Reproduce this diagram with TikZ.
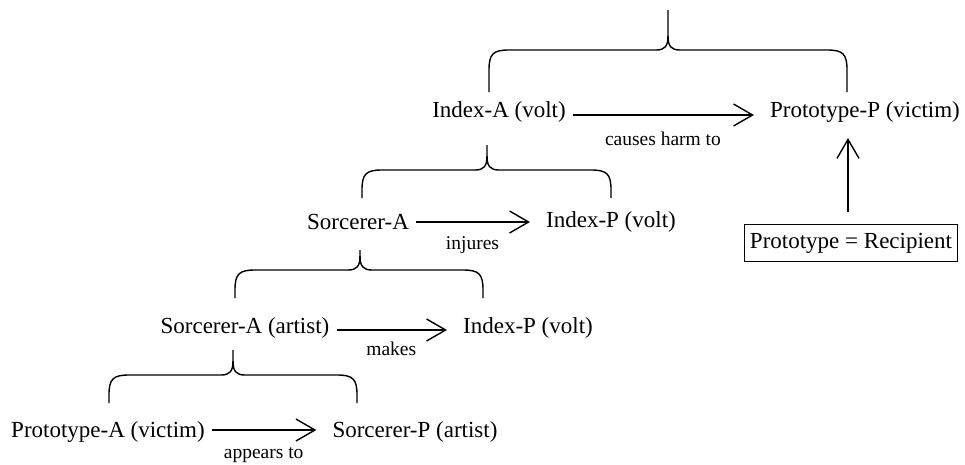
\documentclass[tikz,border=0pt]{standalone}
\usepackage{fontspec}
\setmainfont{Liberation Serif}
\usetikzlibrary{arrows.meta}
\newcommand\cbrace[6]{% xl, xr, xm, yh, ybottom, ytop
  \draw[bracestyle] (#1,#5) -- (#1,{#4+20}) .. controls (#1,{#4+4}) and ({#1+4},#4) .. ({#1+20},#4)
    -- ({#3-12},#4) .. controls ({#3-3},#4) and (#3,{#4-4}) .. (#3,{#4-14}) -- (#3,#6);
  \draw[bracestyle] (#3,{#4-14}) .. controls (#3,{#4-4}) and ({#3+3},#4) .. ({#3+12},#4)
    -- ({#2-20},#4) .. controls ({#2-4},#4) and (#2,{#4+4}) .. (#2,{#4+20}) -- (#2,#5);
}
\begin{document}
\begin{tikzpicture}[x=1pt,y=-1pt,
  term/.style={inner xsep=7pt, inner ysep=2pt, font=\fontsize{23}{27}\selectfont},
  lbl/.style={font=\fontsize{19.5}{23}\selectfont, inner sep=1pt, xshift=-5pt},
  arr/.style={-{Straight Barb[length=19pt,width=22pt]}, line width=1.4pt, shorten >=9pt},
  bracestyle/.style={line width=1.4pt},
  boxed/.style={draw, line width=1pt, inner xsep=5pt, inner ysep=8pt, font=\fontsize{23}{27}\selectfont}]
\useasboundingbox (0,0) rectangle (965,464);

\node[term] (IA)  at (499,112) {Index-A (volt)};
\node[term] (PP)  at (865,112) {Prototype-P (victim)};
\node[term] (SA)  at (358,222) {Sorcerer-A};
\node[term] (IP1) at (611,222) {Index-P (volt)};
\node[term] (SAa) at (245,328) {Sorcerer-A (artist)};
\node[term] (IP2) at (528,328) {Index-P (volt)};
\node[term] (PA)  at (108,432) {Prototype-A (victim)};
\node[term] (SP)  at (415,432) {Sorcerer-P (artist)};
\node[boxed] (box) at (851,243) {Prototype = Recipient};

\draw[arr] ([yshift=-3pt]IA.east) -- node[lbl, below=15pt] {causes harm to} ([yshift=-3pt]PP.west);
\draw[arr] (SA.east) -- node[lbl, below=13pt] {injures} (IP1.west);
\draw[arr] ([yshift=-2pt]SAa.east) -- node[lbl, below=10pt] {makes} ([yshift=-2pt]IP2.west);
\draw[arr] ([yshift=2pt]PA.east) -- node[lbl, below=16pt] {appears to} ([yshift=2pt]SP.west);
\draw[arr, shorten >=2pt, shorten <=12pt] (box.north -| 848,0) -- (848,136);

\cbrace{489}{847}{668}{50}{92}{10}
\cbrace{362}{611}{487}{170}{198}{145}
\cbrace{235}{483}{360}{270}{298}{250}
\cbrace{109}{357}{233}{375}{403}{350}
\end{tikzpicture}
\end{document}
